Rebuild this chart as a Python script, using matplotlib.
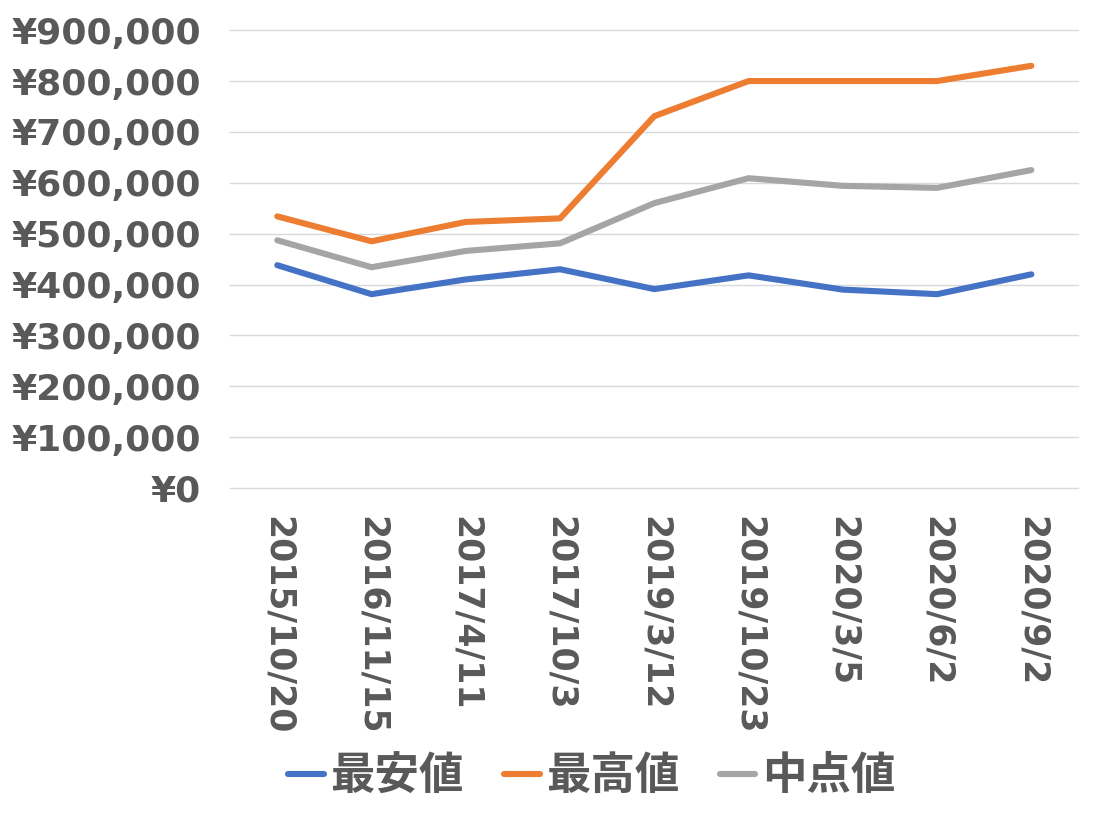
import matplotlib.pyplot as plt
from matplotlib.ticker import FuncFormatter

dates = ["2015/10/20", "2016/11/15", "2017/4/11", "2017/10/3", "2019/3/12",
         "2019/10/23", "2020/3/5", "2020/6/2", "2020/9/2"]
lowest = [438000, 381000, 410000, 430000, 391000, 418000, 390000, 381000, 420000]
highest = [534000, 485000, 523000, 530000, 731000, 800000, 800000, 800000, 830000]
middle = [487000, 434000, 466000, 481000, 560000, 609000, 594000, 590000, 625000]

plt.rcParams["font.family"] = ["DejaVu Sans", "Noto Sans CJK JP"]
text_color = "#595959"

fig = plt.figure(figsize=(10.96, 8.16), dpi=100)
ax = fig.add_axes([0.21, 0.402, 0.774, 0.561])

x = range(len(dates))
ax.plot(x, lowest, color="#4472C4", lw=4.4, solid_capstyle="round", label="最安値")
ax.plot(x, highest, color="#ED7D31", lw=4.4, solid_capstyle="round", label="最高値")
ax.plot(x, middle, color="#A5A5A5", lw=4.4, solid_capstyle="round", label="中点値")

ax.set_xlim(-0.5, len(dates) - 0.5)
ax.set_ylim(0, 900000)
ax.set_yticks(range(0, 900001, 100000))
ax.yaxis.set_major_formatter(FuncFormatter(lambda v, p: "¥{:,.0f}".format(v)))
ax.set_xticks(list(x))
ax.set_xticklabels(dates, rotation=-90, va="top", ha="center")
ax.grid(axis="y", color="#d9d9d9", lw=1, clip_on=False)
ax.set_axisbelow(True)
for s in ax.spines.values():
    s.set_visible(False)
ax.tick_params(length=0, labelcolor=text_color)
ax.tick_params(axis="y", labelsize=26, pad=21)
ax.tick_params(axis="x", labelsize=25, pad=20)
for lbl in ax.get_xticklabels() + ax.get_yticklabels():
    lbl.set_fontweight("bold")

leg = fig.legend(loc="center", bbox_to_anchor=(0.54, 0.048), ncol=3, frameon=False,
                 handlelength=0.8, handletextpad=0.15, columnspacing=0.9,
                 borderaxespad=0, prop={"size": 32, "weight": "bold"})
for t in leg.get_texts():
    t.set_color(text_color)

fig.savefig("out.png", dpi=100)
